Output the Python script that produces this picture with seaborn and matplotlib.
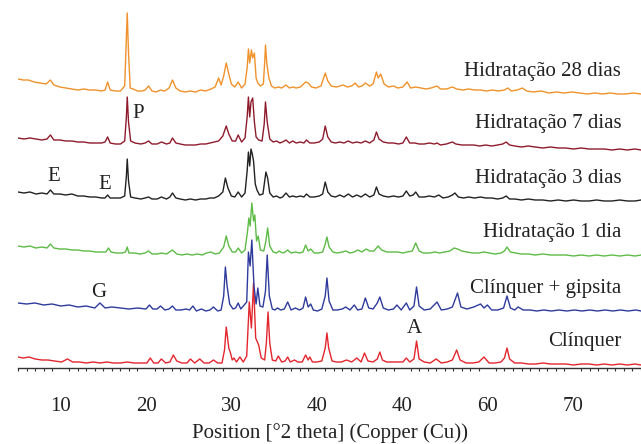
import numpy as np
import pandas as pd
import matplotlib
matplotlib.use('Agg')
import matplotlib.pyplot as plt
from matplotlib.ticker import MultipleLocator
import seaborn as sns

# (2theta, intensity) pairs, intensity in a.u.
clinquer = [
    (5.0, 11), (5.6, 10), (6.3, 11), (7.0, 9), (7.8, 8), (8.5, 8), (9.3, 7), (10.1, 6), (10.8, 9), (11.4, 6),
    (12.2, 6), (13.0, 5), (13.8, 6), (14.6, 5), (15.4, 6), (16.2, 5), (17.0, 5), (17.8, 6), (18.6, 5), (19.4, 5),
    (20.1, 5), (20.5, 10), (20.9, 5), (21.4, 5), (21.8, 9), (22.3, 5), (22.8, 6), (23.2, 13), (23.6, 7), (24.2, 5),
    (24.8, 5), (25.2, 9), (25.7, 5), (26.3, 9), (26.8, 5), (27.4, 5), (27.9, 8), (28.4, 5), (28.9, 5), (29.2, 18),
    (29.4, 41), (29.7, 20), (29.9, 15), (30.1, 8), (30.3, 10), (30.6, 6), (31.0, 11), (31.4, 6), (31.8, 12), (32.1, 66),
    (32.35, 40), (32.6, 85), (32.85, 30), (33.2, 23), (33.5, 10), (33.9, 8), (34.1, 25), (34.3, 56), (34.5, 25), (34.8, 8),
    (35.2, 7), (35.5, 12), (35.9, 6), (36.3, 7), (36.6, 11), (36.9, 6), (37.4, 8), (37.8, 6), (38.3, 6), (38.7, 13),
    (39.0, 8), (39.2, 11), (39.5, 6), (40.0, 6), (40.6, 7), (41.0, 20), (41.2, 35), (41.4, 20), (41.8, 7), (42.3, 6),
    (42.9, 6), (43.5, 8), (44.1, 6), (44.7, 10), (45.2, 6), (45.6, 15), (46.0, 7), (46.6, 6), (47.1, 9), (47.4, 16),
    (47.7, 8), (48.2, 6), (48.9, 6), (49.5, 6), (50.1, 6), (50.5, 10), (50.9, 6), (51.4, 9), (51.7, 27), (52.0, 9),
    (52.6, 6), (53.3, 5), (54.0, 9), (54.6, 5), (55.3, 6), (55.9, 8), (56.4, 18), (56.8, 8), (57.5, 5), (58.3, 5),
    (59.0, 6), (59.6, 11), (60.2, 5), (60.9, 5), (61.6, 6), (62.0, 10), (62.3, 20), (62.6, 9), (63.2, 5), (64.0, 5),
    (64.8, 4), (65.7, 4), (66.5, 5), (67.4, 4), (68.3, 4), (69.2, 4), (70.1, 3), (71.0, 4), (71.9, 4), (72.8, 3),
    (73.7, 4), (74.6, 3), (75.5, 4), (76.4, 3), (77.3, 4), (78.0, 3),
]

clinquer_gipsita = [
    (5.0, 13), (6.0, 12), (7.0, 13), (8.0, 11), (9.0, 12), (10.0, 10), (11.0, 11), (12.0, 9), (13.0, 10), (14.0, 8),
    (14.6, 13), (15.2, 8), (16.0, 9), (17.0, 8), (18.0, 7), (19.0, 8), (20.0, 7), (20.4, 11), (20.8, 7), (21.3, 7),
    (21.7, 10), (22.2, 6), (22.7, 7), (23.1, 10), (23.5, 6), (24.1, 6), (24.7, 7), (25.1, 6), (25.5, 10), (25.9, 5),
    (26.5, 7), (27.0, 5), (27.5, 6), (27.9, 9), (28.4, 5), (28.8, 6), (29.1, 20), (29.3, 49), (29.5, 30), (29.8, 12),
    (30.2, 7), (30.5, 8), (30.8, 13), (31.1, 7), (31.5, 11), (31.8, 14), (32.0, 64), (32.2, 50), (32.4, 76), (32.65, 30),
    (32.9, 12), (33.1, 28), (33.35, 10), (33.7, 9), (34.0, 25), (34.2, 61), (34.45, 20), (34.8, 7), (35.1, 6), (35.4, 8),
    (35.8, 6), (36.2, 7), (36.6, 14), (37.0, 6), (37.5, 8), (38.0, 6), (38.4, 8), (38.7, 19), (39.0, 9), (39.3, 12),
    (39.6, 6), (40.1, 5), (40.6, 7), (41.0, 20), (41.2, 38), (41.45, 15), (41.9, 6), (42.4, 6), (43.0, 7), (43.4, 9),
    (43.9, 6), (44.4, 11), (44.8, 6), (45.3, 7), (45.7, 18), (46.1, 8), (46.6, 7), (47.1, 13), (47.4, 19), (47.8, 8),
    (48.4, 6), (49.0, 7), (49.4, 11), (49.9, 6), (50.5, 13), (50.9, 6), (51.4, 10), (51.7, 29), (52.0, 10), (52.6, 6),
    (53.3, 7), (54.1, 14), (54.6, 6), (55.3, 7), (55.9, 9), (56.5, 23), (56.9, 9), (57.6, 7), (58.4, 9), (59.2, 12),
    (59.6, 8), (60.0, 11), (60.5, 6), (61.2, 6), (61.9, 8), (62.3, 20), (62.7, 8), (63.2, 6), (63.6, 9), (64.2, 6),
    (65.0, 6), (65.8, 5), (66.6, 6), (67.5, 5), (68.4, 6), (69.3, 5), (70.2, 6), (71.1, 5), (72.0, 6), (72.9, 5),
    (73.8, 6), (74.7, 5), (75.6, 6), (76.5, 5), (77.4, 6), (78.0, 5),
]

hidratacao_1d = [
    (5.0, 15), (5.7, 14), (6.4, 15), (7.1, 13), (7.8, 14), (8.4, 13), (8.8, 17), (9.2, 13), (9.9, 12), (10.6, 12),
    (11.3, 11), (12.0, 11), (12.7, 10), (13.4, 10), (14.1, 9), (14.8, 9), (15.3, 9), (15.6, 13), (15.9, 9), (16.5, 8),
    (17.2, 8), (17.6, 9), (17.8, 14), (18.0, 8), (18.6, 8), (19.3, 7), (19.9, 8), (20.3, 10), (20.7, 7), (21.3, 7),
    (21.8, 8), (22.4, 7), (23.1, 11), (23.6, 7), (24.2, 6), (24.8, 7), (25.4, 6), (26.0, 7), (26.6, 6), (27.1, 8),
    (27.6, 9), (28.1, 7), (28.6, 8), (29.1, 14), (29.4, 25), (29.7, 15), (30.1, 9), (30.5, 9), (30.8, 13), (31.2, 8),
    (31.6, 11), (31.9, 30), (32.05, 43), (32.2, 35), (32.4, 58), (32.6, 40), (32.75, 46), (32.95, 20), (33.15, 25), (33.4, 11),
    (33.8, 10), (34.05, 20), (34.25, 33), (34.5, 15), (34.9, 9), (35.3, 8), (35.6, 10), (36.0, 8), (36.3, 9), (36.6, 11),
    (37.0, 8), (37.5, 9), (38.0, 8), (38.4, 9), (38.7, 16), (39.0, 10), (39.3, 12), (39.7, 8), (40.2, 8), (40.7, 9),
    (41.0, 17), (41.2, 24), (41.45, 14), (41.9, 9), (42.4, 8), (43.0, 9), (43.4, 10), (43.9, 8), (44.4, 9), (44.8, 11),
    (45.3, 9), (45.8, 12), (46.2, 10), (46.7, 10), (47.2, 15), (47.6, 11), (48.2, 9), (48.9, 9), (49.5, 9), (50.1, 8),
    (50.6, 9), (51.2, 10), (51.6, 18), (52.0, 10), (52.5, 8), (53.2, 8), (53.9, 9), (54.4, 8), (55.0, 9), (55.6, 10),
    (56.1, 13), (56.5, 12), (57.0, 10), (57.6, 9), (58.3, 8), (59.0, 8), (59.6, 9), (60.2, 8), (60.9, 7), (61.6, 8),
    (62.0, 10), (62.3, 14), (62.7, 9), (63.3, 8), (64.0, 7), (64.8, 7), (65.6, 6), (66.5, 7), (67.4, 6), (68.3, 6),
    (69.2, 6), (70.1, 5), (71.0, 6), (71.9, 5), (72.8, 6), (73.7, 5), (74.6, 6), (75.5, 5), (76.4, 6), (77.3, 5),
    (78.0, 6),
]

hidratacao_3d = [
    (5.0, 14), (5.7, 13), (6.4, 14), (7.1, 12), (7.8, 13), (8.4, 12), (8.8, 16), (9.2, 12), (9.9, 12), (10.6, 11),
    (11.3, 12), (12.0, 10), (12.7, 10), (13.4, 9), (14.1, 9), (14.8, 8), (15.2, 8), (15.5, 11), (15.8, 8), (16.4, 8),
    (17.0, 8), (17.5, 10), (17.7, 30), (17.8, 47), (17.95, 25), (18.2, 9), (18.7, 8), (19.4, 7), (19.9, 8), (20.3, 9),
    (20.7, 7), (21.3, 7), (21.8, 9), (22.4, 7), (22.8, 9), (23.1, 13), (23.5, 8), (24.0, 7), (24.6, 6), (25.2, 7),
    (25.8, 6), (26.4, 7), (27.0, 7), (27.5, 8), (28.0, 8), (28.5, 10), (29.0, 14), (29.3, 28), (29.6, 18), (30.0, 10),
    (30.4, 9), (30.8, 14), (31.2, 9), (31.6, 13), (31.85, 35), (32.0, 54), (32.15, 40), (32.3, 57), (32.45, 52), (32.6, 45),
    (32.8, 22), (33.0, 16), (33.3, 11), (33.7, 12), (33.9, 25), (34.05, 34), (34.25, 28), (34.5, 13), (34.9, 9), (35.3, 10),
    (35.7, 8), (36.0, 9), (36.4, 13), (36.8, 9), (37.2, 10), (37.6, 9), (38.1, 10), (38.5, 9), (38.8, 12), (39.2, 9),
    (39.7, 9), (40.3, 10), (40.7, 12), (41.0, 24), (41.3, 14), (41.7, 10), (42.2, 9), (42.7, 11), (43.2, 9), (43.7, 12),
    (44.2, 9), (44.7, 11), (45.2, 9), (45.7, 12), (46.2, 9), (46.7, 11), (47.0, 19), (47.3, 12), (47.8, 10), (48.4, 9),
    (49.0, 10), (49.6, 9), (50.1, 10), (50.5, 15), (50.9, 10), (51.3, 11), (51.6, 14), (52.0, 9), (52.6, 9), (53.2, 10),
    (53.8, 9), (54.3, 11), (54.8, 8), (55.4, 9), (55.9, 11), (56.2, 13), (56.6, 9), (57.2, 8), (57.8, 9), (58.5, 8),
    (59.2, 9), (59.8, 8), (60.5, 8), (61.2, 7), (61.8, 8), (62.2, 10), (62.6, 7), (63.2, 7), (64.0, 6), (64.8, 7),
    (65.6, 6), (66.5, 6), (67.4, 5), (68.3, 6), (69.2, 5), (70.1, 6), (71.0, 5), (71.9, 5), (72.8, 6), (73.7, 5),
    (74.6, 5), (75.5, 6), (76.4, 5), (77.3, 5), (78.0, 6),
]

hidratacao_7d = [
    (5.0, 14), (5.7, 13), (6.4, 14), (7.1, 13), (7.8, 12), (8.4, 13), (8.8, 17), (9.2, 12), (9.9, 12), (10.6, 11),
    (11.3, 11), (12.0, 10), (12.7, 10), (13.4, 9), (14.1, 9), (14.8, 9), (15.2, 10), (15.5, 15), (15.8, 9), (16.4, 8),
    (17.0, 8), (17.5, 11), (17.7, 35), (17.8, 55), (17.95, 30), (18.2, 11), (18.7, 9), (19.4, 8), (19.9, 9), (20.3, 11),
    (20.7, 8), (21.3, 8), (21.8, 10), (22.4, 8), (22.8, 9), (23.1, 14), (23.5, 9), (24.0, 8), (24.6, 7), (25.2, 7),
    (25.8, 7), (26.4, 8), (27.0, 8), (27.5, 9), (28.0, 10), (28.5, 11), (29.0, 16), (29.4, 26), (29.7, 18), (30.1, 11),
    (30.5, 11), (30.8, 17), (31.2, 10), (31.6, 14), (31.85, 35), (32.0, 55), (32.15, 35), (32.3, 50), (32.5, 54), (32.7, 30),
    (32.9, 15), (33.2, 12), (33.6, 11), (33.85, 28), (34.0, 50), (34.2, 30), (34.5, 13), (34.9, 10), (35.3, 11), (35.7, 9),
    (36.0, 10), (36.4, 12), (36.8, 9), (37.2, 11), (37.6, 9), (38.1, 10), (38.5, 9), (38.8, 12), (39.2, 9), (39.7, 9),
    (40.3, 10), (40.7, 13), (41.0, 26), (41.3, 15), (41.7, 10), (42.2, 9), (42.7, 10), (43.2, 9), (43.7, 11), (44.2, 9),
    (44.7, 10), (45.2, 9), (45.7, 11), (46.2, 9), (46.7, 12), (47.0, 20), (47.3, 13), (47.8, 10), (48.4, 9), (49.0, 9),
    (49.6, 8), (50.1, 9), (50.5, 15), (50.9, 9), (51.5, 9), (52.0, 8), (52.6, 8), (53.2, 9), (53.8, 8), (54.1, 9),
    (54.5, 7), (55.2, 8), (55.9, 10), (56.3, 8), (57.0, 7), (57.7, 7), (58.4, 7), (59.1, 6), (59.8, 7), (60.5, 6),
    (61.2, 7), (61.8, 8), (62.2, 10), (62.6, 7), (63.2, 6), (64.0, 5), (64.8, 6), (65.6, 5), (66.5, 4), (67.4, 5),
    (68.3, 4), (69.2, 4), (70.1, 3), (71.0, 4), (71.9, 3), (72.8, 3), (73.7, 3), (74.6, 2), (75.5, 3), (76.4, 2),
    (77.3, 3), (78.0, 2),
]

hidratacao_28d = [
    (5.0, 19), (5.6, 18), (6.2, 18), (6.9, 16), (7.6, 15), (8.3, 14), (8.8, 18), (9.2, 13), (9.9, 11), (10.6, 10),
    (11.3, 9), (12.0, 8), (12.7, 9), (13.4, 8), (14.1, 8), (14.8, 7), (15.2, 8), (15.5, 16), (15.8, 8), (16.4, 7),
    (17.0, 7), (17.5, 12), (17.65, 50), (17.8, 85), (17.95, 45), (18.15, 10), (18.5, 9), (19.0, 7), (19.5, 7), (19.9, 8),
    (20.3, 12), (20.7, 7), (21.2, 6), (21.7, 8), (22.2, 7), (22.7, 10), (23.1, 18), (23.5, 10), (24.0, 7), (24.6, 6),
    (25.2, 7), (25.8, 6), (26.4, 8), (27.0, 7), (27.6, 9), (28.1, 11), (28.5, 20), (28.8, 13), (29.1, 22), (29.4, 35),
    (29.7, 24), (30.0, 14), (30.4, 11), (30.8, 16), (31.2, 10), (31.6, 14), (31.85, 30), (32.0, 49), (32.15, 35), (32.35, 48),
    (32.5, 40), (32.7, 45), (32.9, 20), (33.1, 15), (33.4, 12), (33.75, 14), (33.9, 35), (34.0, 53), (34.15, 35), (34.4, 20),
    (34.7, 12), (35.1, 10), (35.5, 11), (35.9, 10), (36.4, 13), (36.8, 10), (37.2, 11), (37.6, 10), (38.1, 11), (38.7, 16),
    (39.0, 15), (39.4, 11), (39.9, 10), (40.5, 12), (41.0, 25), (41.3, 17), (41.7, 12), (42.3, 11), (42.7, 12), (43.1, 13),
    (43.6, 11), (44.1, 12), (44.5, 15), (44.9, 11), (45.3, 12), (45.7, 15), (46.2, 12), (46.6, 14), (47.0, 26), (47.2, 20),
    (47.5, 24), (47.9, 14), (48.4, 11), (49.0, 12), (49.5, 10), (50.1, 11), (50.6, 16), (51.0, 10), (51.6, 11), (52.2, 10),
    (52.8, 9), (53.4, 10), (54.1, 12), (54.5, 9), (55.2, 9), (55.9, 11), (56.4, 9), (57.1, 8), (57.8, 9), (58.5, 8),
    (59.2, 8), (59.9, 7), (60.6, 8), (61.3, 7), (62.0, 8), (62.4, 10), (62.8, 7), (63.5, 8), (64.1, 10), (64.6, 7),
    (65.4, 6), (66.3, 7), (67.2, 5), (68.1, 6), (69.0, 5), (69.9, 6), (70.8, 5), (71.7, 4), (72.6, 5), (73.5, 4),
    (74.4, 5), (75.3, 4), (76.2, 4), (77.1, 5), (78.0, 4),
]

samples = ['Clínquer', 'Clínquer + gipsita', 'Hidratação 1 dia',
           'Hidratação 3 dias', 'Hidratação 7 dias', 'Hidratação 28 dias']
patterns = [clinquer, clinquer_gipsita, hidratacao_1d,
            hidratacao_3d, hidratacao_7d, hidratacao_28d]
tick_values = [10, 20, 30, 40, 50, 60, 70]
tick_labels = ['10', '20', '30', '40', '40', '60', '70']
phase_labels = ['P', 'E', 'E', 'G', 'A']

# layout / style
offsets = [0, 52, 107, 162, 216, 270]
colors = ['#e3262e', '#2e3b9c', '#5dbb46', '#222222', '#8e1b2c', '#f0922b']
label_y = [22, 75, 131, 185, 240, 292]
phase_xy = [(19.1, 250), (9.2, 187), (15.2, 179), (14.4, 71), (51.5, 35)]

rows = []
for name, pts, off in zip(samples, patterns, offsets):
    for t, v in pts:
        rows.append((name, t, v + off))
df = pd.DataFrame(rows, columns=['amostra', 'theta', 'intensidade'])

sns.set_style('white')
plt.rcParams['font.family'] = ['Liberation Serif', 'DejaVu Serif']

fig = plt.figure(figsize=(6.41, 4.44), dpi=100)
ax = fig.add_axes([18 / 641, 76 / 444, 623 / 641, 368 / 444])

sns.lineplot(data=df, x='theta', y='intensidade', hue='amostra',
             palette=dict(zip(samples, colors)), estimator=None, sort=False,
             lw=1.0, legend=False, ax=ax)

for name, y in zip(samples, label_y):
    ax.text(75.7, y, name, ha='right', va='baseline', fontsize=15, color='#222222')
for lab, (x, y) in zip(phase_labels, phase_xy):
    ax.text(x, y, lab, ha='center', va='baseline', fontsize=15, color='#222222')

ax.set_xlim(5, 78)
ax.set_ylim(0, 368)
ax.set_yticks([])
ax.set_ylabel('')
for s in ['left', 'top', 'right']:
    ax.spines[s].set_visible(False)
ax.spines['bottom'].set_color('#333333')
ax.spines['bottom'].set_linewidth(1.0)

ax.set_xticks(tick_values)
ax.set_xticklabels(tick_labels)
ax.xaxis.set_minor_locator(MultipleLocator(1))
ax.tick_params(axis='x', which='major', direction='out', length=5, width=0.9,
               color='#333333', pad=16, labelsize=15, labelcolor='#222222')
ax.tick_params(axis='x', which='minor', direction='out', length=2.5, width=0.8,
               color='#333333', bottom=True)
ax.set_xlabel('Position [°2 theta] (Copper (Cu))', fontsize=15, labelpad=5,
              color='#222222')

fig.savefig('out.png', dpi=100)
